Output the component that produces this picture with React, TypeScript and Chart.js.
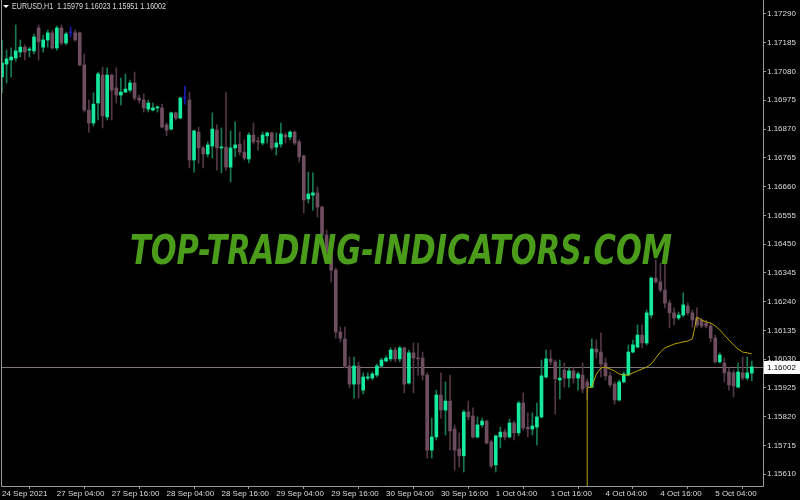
import React, { useEffect, useRef } from 'react';
import { Chart, registerables } from 'chart.js';

Chart.register(...registerables);

// ---- Data (EURUSD, H1) ----
const symbolLabel = 'EURUSD,H1';
const watermarkText = 'TOP-TRADING-INDICATORS.COM';

const xTickBars = [0, 12, 24, 36, 48, 60, 72, 84, 96, 108, 120, 132, 144, 156];
const xTickLabels = [
  '24 Sep 2021', '27 Sep 04:00', '27 Sep 16:00', '28 Sep 04:00', '28 Sep 16:00',
  '29 Sep 04:00', '29 Sep 16:00', '30 Sep 04:00', '30 Sep 16:00', '1 Oct 04:00',
  '1 Oct 16:00', '4 Oct 04:00', '4 Oct 16:00', '5 Oct 04:00',
];
const yTickValues = [
  1.1729, 1.17185, 1.1708, 1.16975, 1.1687, 1.16765, 1.1666, 1.16555, 1.1645,
  1.16345, 1.1624, 1.16135, 1.1603, 1.15925, 1.1582, 1.15715, 1.1561,
];
const yMin = 1.15567;
const yMax = 1.17341;
const xMin = 0;
const xMax = 166.45;

const opens = [
  1.1706, 1.17107, 1.17122, 1.17129, 1.17151, 1.17169, 1.17158, 1.17155, 1.17239, 1.17169,
  1.17195, 1.17221, 1.17166, 1.17239, 1.17184, 1.17221, 1.17221, 1.17221, 1.17104, 1.16939,
  1.16892, 1.16965, 1.17067, 1.16914, 1.17067, 1.1702, 1.16994, 1.17005, 1.17012, 1.17038,
  1.16983, 1.16976, 1.16943, 1.16939, 1.16947, 1.16947, 1.16885, 1.1687, 1.16929, 1.1691,
  1.16983, 1.16976, 1.16757, 1.16859, 1.16801, 1.16779, 1.16808, 1.16866, 1.16801, 1.16804,
  1.16731, 1.16801, 1.16815, 1.16786, 1.16761, 1.16848, 1.16826, 1.16819, 1.16845, 1.16856,
  1.16804, 1.16815, 1.16848, 1.16841, 1.16859, 1.16823, 1.16772, 1.16615, 1.16629, 1.16637,
  1.16585, 1.16483, 1.16421, 1.16355, 1.16129, 1.16104, 1.16005, 1.15939, 1.16005, 1.15917,
  1.15961, 1.15961, 1.15972, 1.16005, 1.16023, 1.16031, 1.16063, 1.16031, 1.16071, 1.15943,
  1.16053, 1.16034, 1.16034, 1.15972, 1.15698, 1.15746, 1.15899, 1.15844, 1.15877, 1.15775,
  1.15702, 1.15677, 1.15837, 1.15823, 1.15746, 1.1579, 1.15804, 1.15728, 1.15644, 1.15746,
  1.15764, 1.15746, 1.15797, 1.15761, 1.1587, 1.15782, 1.15775, 1.15782, 1.15819, 1.15965,
  1.16031, 1.1602, 1.15954, 1.1599, 1.15961, 1.15987, 1.15961, 1.15972, 1.15947, 1.15928,
  1.16067, 1.16056, 1.16016, 1.15969, 1.15939, 1.15881, 1.15947, 1.15972, 1.16056, 1.16074,
  1.16118, 1.16089, 1.16191, 1.16326, 1.16312, 1.16282, 1.16235, 1.16199, 1.1618, 1.16191,
  1.16224, 1.16199, 1.1618, 1.16173, 1.16162, 1.16151, 1.16107, 1.1602, 1.16016, 1.15983,
  1.1598, 1.15928, 1.1598, 1.15961, 1.15979,
];
const highs = [
  1.17195, 1.17158, 1.17166, 1.1725, 1.17195, 1.17177, 1.17169, 1.17217, 1.1725, 1.17213,
  1.17231, 1.17231, 1.17246, 1.1725, 1.17224, 1.17242, 1.17231, 1.17224, 1.17144, 1.16976,
  1.17002, 1.17078, 1.17096, 1.17093, 1.17071, 1.17093, 1.17056, 1.17071, 1.17049, 1.17078,
  1.16994, 1.16998, 1.16976, 1.16965, 1.16954, 1.16961, 1.16892, 1.16932, 1.16932, 1.16987,
  1.17027, 1.17005, 1.16866, 1.16877, 1.16808, 1.16823, 1.16929, 1.16885, 1.16874, 1.17005,
  1.16863, 1.16896, 1.16859, 1.1683, 1.16856, 1.16892, 1.16841, 1.16859, 1.16859, 1.16859,
  1.16856, 1.16892, 1.16856, 1.16863, 1.16863, 1.1683, 1.16775, 1.16713, 1.1671, 1.16658,
  1.16589, 1.16501, 1.16454, 1.16363, 1.16147, 1.16147, 1.16038, 1.16038, 1.1602, 1.1598,
  1.1598, 1.15983, 1.16012, 1.16034, 1.16042, 1.16071, 1.16074, 1.16078, 1.16074, 1.16063,
  1.16089, 1.16089, 1.16056, 1.1598, 1.15815, 1.15917, 1.1598, 1.15947, 1.15972, 1.1579,
  1.15761, 1.15844, 1.15877, 1.15852, 1.15819, 1.15815, 1.15808, 1.15735, 1.15753, 1.15782,
  1.15775, 1.15812, 1.15804, 1.15877, 1.15907, 1.15834, 1.15834, 1.1587, 1.16027, 1.16063,
  1.16063, 1.16027, 1.16027, 1.16016, 1.15998, 1.16001, 1.15983, 1.16016, 1.15958, 1.16104,
  1.161, 1.16126, 1.16034, 1.15983, 1.15947, 1.15954, 1.15983, 1.16082, 1.161, 1.16155,
  1.16155, 1.16209, 1.1633, 1.16392, 1.16381, 1.16385, 1.16246, 1.16217, 1.16202, 1.16272,
  1.16235, 1.16209, 1.16217, 1.1618, 1.16173, 1.16162, 1.16118, 1.16053, 1.16034, 1.15998,
  1.1599, 1.16016, 1.16038, 1.16038, 1.16023,
];
const lows = [
  1.17002, 1.17038, 1.1706, 1.17118, 1.17133, 1.17122, 1.17133, 1.17144, 1.17122, 1.17151,
  1.17169, 1.17162, 1.17158, 1.17177, 1.17177, 1.17206, 1.17191, 1.171, 1.16932, 1.16859,
  1.16881, 1.16903, 1.16874, 1.16903, 1.16903, 1.16965, 1.16958, 1.17002, 1.17005, 1.16976,
  1.16965, 1.16932, 1.16932, 1.16936, 1.16932, 1.16874, 1.16845, 1.16866, 1.16903, 1.16907,
  1.16961, 1.16728, 1.16713, 1.16746, 1.16728, 1.16768, 1.16764, 1.1672, 1.1671, 1.1672,
  1.16677, 1.16768, 1.16775, 1.16757, 1.16746, 1.16815, 1.16793, 1.16812, 1.16819, 1.16793,
  1.16775, 1.16804, 1.16819, 1.1683, 1.16812, 1.1675, 1.16564, 1.166, 1.16574, 1.16549,
  1.16476, 1.16399, 1.16312, 1.16107, 1.16093, 1.15998, 1.15925, 1.15888, 1.15888, 1.15903,
  1.15954, 1.15954, 1.15965, 1.16001, 1.1602, 1.16023, 1.1602, 1.1602, 1.15907, 1.15939,
  1.15907, 1.15972, 1.15954, 1.15669, 1.15669, 1.15735, 1.15815, 1.15753, 1.15698, 1.15625,
  1.15636, 1.15618, 1.15808, 1.15742, 1.15742, 1.15782, 1.1572, 1.15633, 1.15618, 1.15706,
  1.15735, 1.15742, 1.15735, 1.1575, 1.15771, 1.15746, 1.15753, 1.15717, 1.15815, 1.15961,
  1.16009, 1.1583, 1.15885, 1.15928, 1.15928, 1.15943, 1.15917, 1.15907, 1.15881, 1.15925,
  1.16034, 1.15965, 1.15954, 1.15928, 1.15866, 1.15877, 1.15943, 1.15969, 1.16053, 1.16071,
  1.16071, 1.16082, 1.1618, 1.16308, 1.16275, 1.16217, 1.16144, 1.16155, 1.16173, 1.16184,
  1.16191, 1.16147, 1.16147, 1.16144, 1.16144, 1.16093, 1.16016, 1.16016, 1.15947, 1.15917,
  1.15892, 1.15925, 1.15954, 1.15954, 1.15951,
];
const closes = [
  1.17111, 1.17126, 1.17133, 1.17155, 1.17169, 1.17151, 1.17162, 1.17206, 1.17188, 1.17195,
  1.17221, 1.17166, 1.17239, 1.17184, 1.17217, 1.17221, 1.17195, 1.17104, 1.16939, 1.16892,
  1.16961, 1.17071, 1.16918, 1.17067, 1.17012, 1.16994, 1.17005, 1.17016, 1.17038, 1.16983,
  1.16976, 1.16947, 1.16965, 1.16947, 1.1695, 1.16877, 1.16866, 1.16929, 1.1691, 1.16983,
  1.16983, 1.16757, 1.16863, 1.16801, 1.16779, 1.16812, 1.1687, 1.16801, 1.16804, 1.16731,
  1.16801, 1.16812, 1.16786, 1.16764, 1.16848, 1.16823, 1.16823, 1.16848, 1.16856, 1.16801,
  1.16819, 1.16852, 1.16841, 1.16859, 1.16819, 1.16768, 1.16611, 1.16633, 1.16637, 1.16585,
  1.16483, 1.16421, 1.16355, 1.16129, 1.16107, 1.16005, 1.15939, 1.16005, 1.15939, 1.15965,
  1.15965, 1.15976, 1.16005, 1.16027, 1.16034, 1.16063, 1.16031, 1.16071, 1.15939, 1.16053,
  1.16034, 1.16031, 1.15972, 1.15698, 1.15746, 1.15899, 1.15844, 1.15877, 1.15768, 1.15698,
  1.15677, 1.15837, 1.15819, 1.15746, 1.1579, 1.15804, 1.15724, 1.1564, 1.1575, 1.15764,
  1.15746, 1.15797, 1.15761, 1.1587, 1.15779, 1.15775, 1.15786, 1.15819, 1.15969, 1.16031,
  1.1602, 1.15958, 1.15961, 1.15961, 1.15987, 1.15961, 1.15976, 1.15921, 1.15928, 1.16067,
  1.16056, 1.16012, 1.15969, 1.15936, 1.15881, 1.15947, 1.15976, 1.16056, 1.16082, 1.16118,
  1.16089, 1.16199, 1.16326, 1.16312, 1.16282, 1.16235, 1.16199, 1.1618, 1.16191, 1.16228,
  1.16199, 1.16173, 1.16155, 1.16151, 1.16151, 1.16107, 1.1602, 1.16045, 1.1598, 1.15936,
  1.15932, 1.15983, 1.15961, 1.1598, 1.16002,
];

// indicator line (starts at bar 127, where the buffer is still 0)
const maStart = 127;
const maValues = [
  0, 1.15925, 1.15928, 1.15976, 1.15998, 1.16001, 1.15994, 1.15987, 1.15976, 1.15972,
  1.15972, 1.1598, 1.15987, 1.15994, 1.16001, 1.16012, 1.16034, 1.16056, 1.16071, 1.16078,
  1.16085, 1.16089, 1.16093, 1.16096, 1.16104, 1.16184, 1.16173, 1.16166, 1.16162, 1.16151,
  1.16137, 1.16118, 1.161, 1.16082, 1.16067, 1.16056, 1.16053, 1.16049,
];

// ---- Styles ----
const FONT = '"Liberation Sans", Arial, sans-serif';
const TEXT_COLOR = '#dcdcdc';
const FRAME_COLOR = '#9a9a9a';
const BULL_BODY = '#14eb9e';
const BULL_WICK = '#177a52';
const BEAR_BODY = '#6e4d5f';
const BEAR_WICK = '#523746';
const DOJI = '#1c1cb0';
const MA_COLOR = '#b8a400';
const BID_LINE = '#80747a';
const WATERMARK = '#4a9c1a';

const lastIdx = closes.length - 1;
const lastClose = closes[lastIdx];
const fmt = (v: number) => v.toFixed(5);

const kind = (i: number) =>
  opens[i] === closes[i] ? 'doji' : closes[i] > opens[i] ? 'bull' : 'bear';

const overlayPlugin = {
  id: 'mtOverlay',
  beforeDraw(chart: any) {
    const { ctx, width, height } = chart;
    ctx.save();
    ctx.fillStyle = '#000';
    ctx.fillRect(0, 0, width, height);
    ctx.restore();
  },
  beforeDatasetsDraw(chart: any) {
    const { ctx, chartArea: ca, scales } = chart;
    const y = Math.round(scales.y.getPixelForValue(lastClose)) + 0.5;
    ctx.save();
    ctx.strokeStyle = BID_LINE;
    ctx.lineWidth = 1;
    ctx.beginPath();
    ctx.moveTo(ca.left, y);
    ctx.lineTo(ca.right, y);
    ctx.stroke();
    ctx.restore();
  },
  afterDatasetsDraw(chart: any) {
    const { ctx } = chart;
    ctx.save();
    ctx.font = `italic bold 40px "DejaVu Sans", sans-serif`;
    ctx.fillStyle = WATERMARK;
    ctx.textAlign = 'left';
    ctx.textBaseline = 'alphabetic';
    ctx.fillText(watermarkText, 130, 264, 542);
    ctx.restore();
  },
  afterDraw(chart: any) {
    const { ctx, chartArea: ca, scales, width } = chart;
    ctx.save();
    // frame
    ctx.strokeStyle = FRAME_COLOR;
    ctx.lineWidth = 1;
    ctx.beginPath();
    ctx.moveTo(ca.left - 0.5, ca.top);
    ctx.lineTo(ca.left - 0.5, ca.bottom + 0.5);
    ctx.lineTo(ca.right + 0.5, ca.bottom + 0.5);
    ctx.lineTo(ca.right + 0.5, ca.top);
    ctx.stroke();
    // price box
    const y = Math.round(scales.y.getPixelForValue(lastClose));
    ctx.fillStyle = '#ffffff';
    ctx.fillRect(ca.right + 1, y - 6, width - ca.right - 1, 13);
    ctx.fillStyle = '#000000';
    ctx.font = `8px ${FONT}`;
    ctx.textBaseline = 'middle';
    ctx.textAlign = 'left';
    ctx.fillText(fmt(lastClose), ca.right + 4, y + 0.5);
    // title
    ctx.fillStyle = '#ffffff';
    ctx.beginPath();
    ctx.moveTo(3, 5);
    ctx.lineTo(9, 5);
    ctx.lineTo(6, 8);
    ctx.closePath();
    ctx.fill();
    ctx.fillStyle = TEXT_COLOR;
    ctx.font = `9px ${FONT}`;
    ctx.fillText(
      `${symbolLabel}  ${fmt(opens[lastIdx])} ${fmt(highs[lastIdx])} ${fmt(lows[lastIdx])} ${fmt(closes[lastIdx])}`,
      12,
      7,
      154
    );
    ctx.restore();
  },
};

export default function App() {
  const canvasRef = useRef<HTMLCanvasElement | null>(null);

  useEffect(() => {
    document.body.style.margin = '0';
    document.body.style.background = '#000';
    const canvas = canvasRef.current;
    if (!canvas) return;

    const idx = opens.map((_, i) => i);
    const wickData = idx.map((i) => ({ x: i, y: [lows[i], highs[i]] }));
    const bodyData = idx.map((i) => ({ x: i, y: [opens[i], closes[i]] }));
    const wickColors = idx.map((i) => {
      const k = kind(i);
      return k === 'doji' ? DOJI : k === 'bull' ? BULL_WICK : BEAR_WICK;
    });
    const bodyColors = idx.map((i) => {
      const k = kind(i);
      return k === 'doji' ? DOJI : k === 'bull' ? BULL_BODY : BEAR_BODY;
    });
    const maData = maValues.map((v, j) => ({ x: maStart + j, y: v }));

    const chart = new Chart(canvas, {
      type: 'bar',
      data: {
        datasets: [
          {
            type: 'line',
            label: 'MA',
            data: maData as any,
            borderColor: MA_COLOR,
            borderWidth: 1,
            pointRadius: 0,
            tension: 0,
            fill: false,
            order: 0,
          } as any,
          {
            label: 'Body',
            data: bodyData as any,
            backgroundColor: bodyColors,
            borderWidth: 0,
            barThickness: 3,
            grouped: false,
            minBarLength: 1,
            order: 1,
          } as any,
          {
            label: 'Wick',
            data: wickData as any,
            backgroundColor: wickColors,
            borderWidth: 0,
            barThickness: 1,
            grouped: false,
            order: 2,
          } as any,
        ],
      },
      options: {
        animation: false,
        responsive: false,
        devicePixelRatio: 1,
        layout: { padding: { left: 2, top: 0, right: 0, bottom: 0 } },
        plugins: {
          legend: { display: false },
          tooltip: { enabled: false },
          title: { display: false },
        },
        scales: {
          x: {
            type: 'linear',
            min: xMin,
            max: xMax,
            offset: false,
            afterFit: (s: any) => {
              s.height = 14;
              s.paddingLeft = 0;
              s.paddingRight = 0;
            },
            afterBuildTicks: (s: any) => {
              s.ticks = xTickBars.map((v) => ({ value: v }));
            },
            ticks: {
              autoSkip: false,
              maxRotation: 0,
              minRotation: 0,
              align: 'start',
              padding: 0,
              color: TEXT_COLOR,
              font: { family: FONT, size: 8 },
              callback: (v: any) => {
                const k = xTickBars.indexOf(Number(v));
                return k >= 0 ? xTickLabels[k] : '';
              },
            },
            grid: {
              drawOnChartArea: false,
              drawTicks: true,
              tickLength: 3,
              color: FRAME_COLOR,
            },
            border: { display: false },
          },
          y: {
            position: 'right',
            min: yMin,
            max: yMax,
            afterFit: (s: any) => {
              s.width = 37;
              s.paddingTop = 0;
              s.paddingBottom = 0;
            },
            afterBuildTicks: (s: any) => {
              s.ticks = yTickValues.map((v) => ({ value: v }));
            },
            ticks: {
              autoSkip: false,
              padding: 1,
              color: TEXT_COLOR,
              font: { family: FONT, size: 8 },
              callback: (v: any) => fmt(Number(v)),
            },
            grid: {
              drawOnChartArea: false,
              drawTicks: true,
              tickLength: 3,
              color: FRAME_COLOR,
            },
            border: { display: false },
          },
        },
      } as any,
      plugins: [overlayPlugin],
    });

    return () => {
      chart.destroy();
    };
  }, []);

  return (
    <div style={{ position: 'absolute', left: 0, top: 0, width: 800, height: 500, background: '#000' }}>
      <canvas ref={canvasRef} width={800} height={500} style={{ display: 'block' }} />
    </div>
  );
}
